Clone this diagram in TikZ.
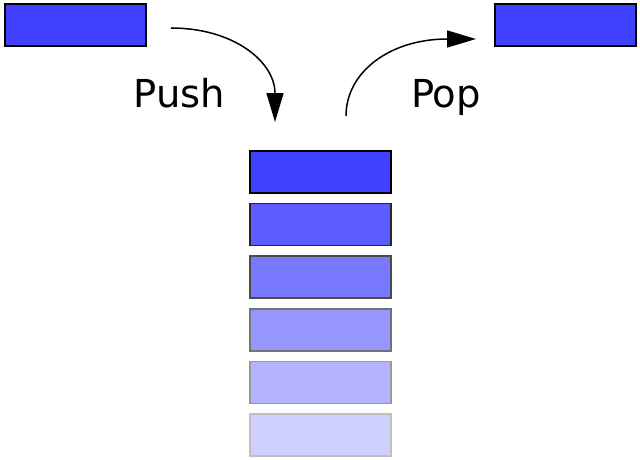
\documentclass[tikz,border=0pt]{standalone}
\usepackage{fontspec}
\setmainfont{DejaVu Sans}
\usepackage{xcolor}
\usepackage{tikz}
\usetikzlibrary{arrows.meta,positioning}
\definecolor{cellblue}{RGB}{64,64,255}
\tikzset{
  cell/.style={draw=black!#1!white,fill=cellblue!#1!white,line width=1.5pt,
    minimum width=141pt,minimum height=42pt,inner sep=0pt},
  move/.style={line width=1.5pt,black,-{Triangle[length=29pt,width=17pt]}},
  word/.style={font=\fontsize{38.5}{46}\selectfont,inner sep=0pt,anchor=base}
}
\begin{document}
\begin{tikzpicture}[x=1pt,y=-1pt]
  \useasboundingbox (0,0) rectangle (640,460);
  \node[cell=100] (inbox) at (75.5,25) {};
  \node[cell=100] (outbox) at (565.5,25) {};
  \foreach \i/\p [count=\k from 0] in {1/100,2/85,3/70,4/55,5/40,6/25}
    \node[cell=\p] (s\i) at (320.5,172+52.6*\k) {};
  \node[word] (push) at (179.5,107) {Push};
  \node[word] (pop) at (446,107) {Pop};
  \coordinate (pushfrom) at (171,28);
  \coordinate (pushto) at (275,122);
  \coordinate (popfrom) at (346,116);
  \coordinate (popto) at (476,39);
  \draw[move] (pushfrom) .. controls (234,28) and (275,62) .. (pushto);
  \draw[move] (popfrom) .. controls (346,72) and (390,39) .. (popto);
\end{tikzpicture}
\end{document}
